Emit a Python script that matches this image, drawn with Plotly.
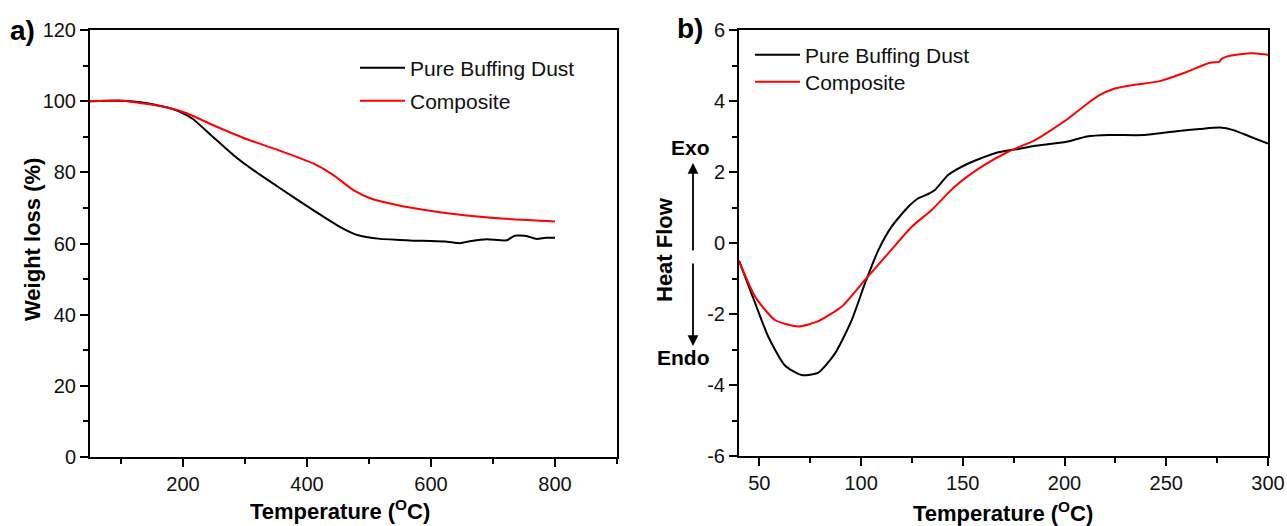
import plotly.graph_objects as go

# ---------------- data ----------------
tga_pure_x = [50, 80, 100, 120, 140, 157, 175, 195, 216, 248, 281, 313, 356, 410, 453, 481,
              518, 550, 571, 600, 626, 647, 665, 690, 722, 735, 754, 770, 785, 800]
tga_pure_y = [100, 100.1, 100.1, 99.9, 99.5, 98.9, 98.2, 97.0, 95.0, 90.0, 84.9, 80.7, 75.6,
              69.4, 64.7, 62.4, 61.3, 61.0, 60.8, 60.7, 60.5, 60.1, 60.7, 61.2, 60.9, 62.2,
              62.1, 61.3, 61.6, 61.6]
tga_comp_x = [50, 98, 130, 168, 206, 248, 303, 356, 410, 442, 475, 502, 545, 598, 679, 732, 800]
tga_comp_y = [100, 100.2, 99.5, 98.5, 96.6, 93.3, 89.3, 86.1, 82.5, 79.3, 75.0, 72.7, 70.8,
              69.2, 67.5, 66.8, 66.2]

dsc_pure_x = [40, 47.9, 54.4, 62.6, 70.8, 79, 87.2, 95.4, 101.9, 108.5, 115, 123.2, 128.1,
              133, 136.3, 142.9, 152.7, 165.8, 177.3, 185, 201, 211, 222, 239, 255, 266.5,
              276.4, 283, 291, 300]
dsc_pure_y = [-0.5, -1.69, -2.64, -3.45, -3.72, -3.65, -3.11, -2.17, -1.14, -0.2, 0.46, 1.02,
              1.26, 1.38, 1.49, 1.92, 2.24, 2.53, 2.65, 2.73, 2.85, 3.0, 3.04, 3.04, 3.15, 3.21,
              3.25, 3.18, 3.0, 2.8]
dsc_comp_x = [40, 47.9, 57.7, 69.2, 79, 90.5, 101.9, 113.4, 124.9, 134.7, 146.1, 159.3, 172.3,
              185.5, 201, 209.2, 217.4, 224, 233.8, 246.9, 258.3, 271.4, 276, 277, 279.7, 289.5,
              294.4, 300]
dsc_comp_y = [-0.5, -1.51, -2.17, -2.35, -2.2, -1.79, -1.04, -0.29, 0.46, 0.93, 1.59, 2.15,
              2.57, 2.9, 3.47, 3.84, 4.17, 4.34, 4.45, 4.56, 4.78, 5.08, 5.1, 5.18, 5.25, 5.34,
              5.34, 5.3]

series_names = ["Pure Buffing Dust", "Composite"]

# tick labels
tga_x_ticks = [200, 400, 600, 800]
tga_y_ticks = [0, 20, 40, 60, 80, 100, 120]
dsc_x_ticks = [50, 100, 150, 200, 250, 300]
dsc_y_ticks = [-6, -4, -2, 0, 2, 4, 6]
dsc_y_ticktext = ["-6", "-4", "-2", "0", "2", "4", "6"]

# ---------------- figure ----------------
W, H = 1287, 526
FONT = "Liberation Sans, Arial, sans-serif"
BLACK = "#000000"
RED = "#ff0000"

fig = go.Figure()
fig.add_trace(go.Scatter(x=tga_pure_x, y=tga_pure_y, mode="lines", name=series_names[0],
                         line=dict(color=BLACK, width=2, shape="spline", smoothing=0.5),
                         xaxis="x", yaxis="y", legend="legend"))
fig.add_trace(go.Scatter(x=tga_comp_x, y=tga_comp_y, mode="lines", name=series_names[1],
                         line=dict(color=RED, width=2, shape="spline", smoothing=0.6),
                         xaxis="x", yaxis="y", legend="legend2"))
fig.add_trace(go.Scatter(x=dsc_pure_x, y=dsc_pure_y, mode="lines", name=series_names[0],
                         line=dict(color=BLACK, width=2, shape="spline", smoothing=0.6),
                         xaxis="x2", yaxis="y2", legend="legend3"))
fig.add_trace(go.Scatter(x=dsc_comp_x, y=dsc_comp_y, mode="lines", name=series_names[1],
                         line=dict(color=RED, width=2, shape="spline", smoothing=0.6),
                         xaxis="x2", yaxis="y2", legend="legend4"))


def px_x(p):
    return p / W


def px_y(p):
    return 1 - p / H


axis_common = dict(showline=True, linecolor=BLACK, linewidth=2, mirror=True, ticks="outside",
                   ticklen=8, tickwidth=2, tickcolor=BLACK, showgrid=False, zeroline=False,
                   automargin=False,
                   tickfont=dict(family=FONT, size=20, color="#111111"))
minor_common = dict(ticklen=5, tickwidth=2, tickcolor=BLACK, ticks="outside")


def legend_at(x, y_top):
    return dict(x=px_x(x), y=px_y(y_top), xanchor="left", yanchor="top",
                bgcolor="rgba(0,0,0,0)", font=dict(family=FONT, size=21, color="#111111"),
                itemwidth=45)


fig.update_layout(
    width=W, height=H, paper_bgcolor="white", plot_bgcolor="white",
    margin=dict(l=0, r=0, t=0, b=0, autoexpand=False),
    font=dict(family=FONT, color=BLACK),
    xaxis=dict(domain=[px_x(90), px_x(617)], range=[50, 900], tickvals=tga_x_ticks,
               minor=dict(dtick=100, tick0=0, **minor_common), anchor="y", **axis_common),
    yaxis=dict(domain=[px_y(457), px_y(30)], range=[0, 120], tickvals=tga_y_ticks,
               minor=dict(dtick=10, tick0=0, **minor_common), anchor="x", **axis_common),
    xaxis2=dict(domain=[px_x(739), px_x(1268)], range=[40, 300], tickvals=dsc_x_ticks,
                minor=dict(dtick=25, tick0=0, **minor_common), anchor="y2", **axis_common),
    yaxis2=dict(domain=[px_y(456), px_y(30)], range=[-6, 6], tickvals=dsc_y_ticks,
                ticktext=dsc_y_ticktext,
                minor=dict(dtick=1, tick0=0, **minor_common), anchor="x2", **axis_common),
    legend=legend_at(355, 47.5),
    legend2=legend_at(355, 80.5),
    legend3=legend_at(750, 34.5),
    legend4=legend_at(750, 61.5),
    showlegend=True,
)

ann = []


def add_text(x, y, text, size, bold=True, angle=0):
    ann.append(dict(x=px_x(x), y=px_y(y), xref="paper", yref="paper", showarrow=False,
                    text=f"<b>{text}</b>" if bold else text, textangle=angle,
                    font=dict(family=FONT, size=size, color=BLACK),
                    xanchor="center", yanchor="middle"))


add_text(22, 30, "a)", 28)
add_text(690, 28, "b)", 28)
add_text(32, 240, "Weight loss (%)", 22, angle=-90)
add_text(340, 510, "Temperature (<sup>O</sup>C)", 22)
add_text(1003, 512, "Temperature (<sup>O</sup>C)", 22)
add_text(665, 250, "Heat Flow", 22, angle=-90)
add_text(690, 147, "Exo", 21)
add_text(683, 357, "Endo", 21)

# arrows
ann.append(dict(x=px_x(693), y=px_y(163), xref="paper", yref="paper", ax=0, ay=89,
                axref="pixel", ayref="pixel", text="", showarrow=True, arrowhead=2,
                arrowsize=1.2, arrowwidth=1.8, arrowcolor=BLACK))
ann.append(dict(x=px_x(693), y=px_y(346), xref="paper", yref="paper", ax=0, ay=-84,
                axref="pixel", ayref="pixel", text="", showarrow=True, arrowhead=2,
                arrowsize=1.2, arrowwidth=1.8, arrowcolor=BLACK))

fig.update_layout(annotations=ann)

fig.write_html("out.html", config={"displayModeBar": False},
               post_script="document.body.style.margin='0px';")
